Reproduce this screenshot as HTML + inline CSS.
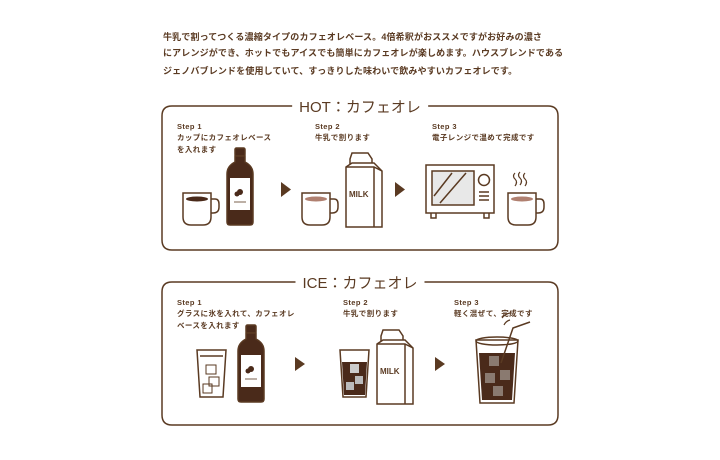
<!DOCTYPE html>
<html><head><meta charset="utf-8"><style>
html,body{margin:0;padding:0;background:#fff;}
body{width:720px;height:460px;overflow:hidden;position:relative;font-family:"Liberation Sans","Noto Sans CJK JP",sans-serif;color:#5a3a22;}
.p{position:absolute;left:163px;font-size:9px;font-weight:bold;letter-spacing:0.15px;white-space:nowrap;line-height:12px;}
.t{position:absolute;font-size:7.5px;font-weight:bold;letter-spacing:0.4px;white-space:nowrap;line-height:12px;}
.h{position:absolute;left:360px;transform:translateX(-50%);white-space:nowrap;font-size:15px;letter-spacing:0px;color:#5a3a22;background:#fff;padding:0 7px;}
svg{position:absolute;left:0;top:0;}
</style></head><body>
<div class="p" style="top:31px">牛乳で割ってつくる濃縮タイプのカフェオレベース。4倍希釈がおススメですがお好みの濃さ</div>
<div class="p" style="top:47px">にアレンジができ、ホットでもアイスでも簡単にカフェオレが楽しめます。ハウスブレンドである</div>
<div class="p" style="top:65px">ジェノバブレンドを使用していて、すっきりした味わいで飲みやすいカフェオレです。</div>

<svg width="720" height="460" viewBox="0 0 720 460" fill="none" stroke="#5a3a22" stroke-width="1.5">
<defs>
<g id="mug"><path d="M0 0 h28 v24 q0 8 -8 8 h-12 q-8 0 -8 -8z" fill="#fff"/><path d="M28 6 h4 q4 0 4 5 v3 q0 6 -6 6 h-2"/></g>
<g id="bottle"><rect x="9" y="0" width="10" height="8" rx="1.5" fill="#4a2a1a"/><path d="M9 8 h10 v6 q8 4 8 12 v48 q0 3 -3 3 h-20 q-3 0 -3 -3 v-48 q0 -8 8 -12z" fill="#4a2a1a"/><rect x="4" y="30" width="20" height="32" fill="#fff" stroke="none"/><circle cx="14" cy="44" r="3" fill="#4a2a1a" stroke="none"/><circle cx="11" cy="46" r="2.5" fill="#4a2a1a" stroke="none"/><line x1="8" y1="54" x2="20" y2="54" stroke-width="0.8"/></g>
<g id="carton"><path d="M6 0 h16 l4 6 v6 h-22 v-6z" fill="#fff"/><path d="M0 14 l6 -4 h22 l8 8 v56 h-36z" fill="#fff"/><path d="M0 14 h28 l8 4 M28 14 v60"/><text x="3" y="44" font-size="8" font-weight="bold" fill="#5a3a22" stroke="none" font-family="Liberation Sans">MILK</text></g>
</defs>
<path d="M300 106 H172 Q162 106 162 116 V240 Q162 250 172 250 H548 Q558 250 558 240 V116 Q558 106 548 106 H420"/>
<path d="M303 282 H172 Q162 282 162 292 V415 Q162 425 172 425 H548 Q558 425 558 415 V292 Q558 282 548 282 H417"/>

<use href="#mug" x="183" y="193"/><ellipse cx="197" cy="199" rx="11" ry="2.5" fill="#4a2a1a" stroke="none"/>
<use href="#bottle" x="226" y="148"/>
<path d="M281 182 L291 189.5 L281 197z" fill="#5a3a22" stroke="none"/>
<use href="#mug" x="302" y="193"/><ellipse cx="316" cy="199" rx="11" ry="2.5" fill="#b08070" stroke="none"/>
<use href="#carton" x="346" y="153"/>
<path d="M395 182 L405 189.5 L395 197z" fill="#5a3a22" stroke="none"/>
<rect x="426" y="165" width="68" height="48" fill="#fff"/><rect x="432" y="171" width="42" height="34" fill="#e8e8e8"/>
<path d="M434 196 L452 173 M440 203 L466 173"/><circle cx="484" cy="180" r="5.5"/><path d="M479 192 h10 M479 196 h10 M479 200 h10"/><path d="M431 213 v5 h5 v-5 M484 213 v5 h5 v-5"/>
<path d="M515 173 q-3 3 0 6 q3 3 0 7 M520 172 q-3 3 0 6 q3 3 0 7 M525 173 q-3 3 0 6 q3 3 0 7" stroke-width="1.2"/>
<use href="#mug" x="508" y="193"/><ellipse cx="522" cy="199" rx="11" ry="2.5" fill="#b08070" stroke="none"/>

<path d="M197 350 h29 l-3 47 h-23z" fill="#fff"/><path d="M200 356 h23"/>
<rect x="206" y="365" width="10" height="9" stroke-width="1"/><rect x="209" y="377" width="10" height="9" stroke-width="1"/><rect x="203" y="384" width="9" height="9" stroke-width="1"/>
<use href="#bottle" x="237" y="325"/>
<path d="M295 357 L305 364 L295 371z" fill="#5a3a22" stroke="none"/>
<path d="M340 350 h29 l-3 47 h-23z" fill="#fff"/><path d="M342 362 h25 l-2 33 h-21z" fill="#4a2a1a" stroke="none"/>
<rect x="350" y="364" width="9" height="9" fill="#ccc" stroke="none"/><rect x="355" y="376" width="8" height="8" fill="#bbb" stroke="none"/><rect x="346" y="382" width="8" height="8" fill="#bbb" stroke="none"/>
<use href="#carton" x="377" y="330"/>
<path d="M435 357 L445 364 L435 371z" fill="#5a3a22" stroke="none"/>
<path d="M476 340 h42 l-4 63 h-34z" fill="#fff"/><ellipse cx="497" cy="341" rx="21" ry="4"/>
<path d="M479 353 h36 l-3 47 h-30z" fill="#4a2a1a" stroke="none"/>
<rect x="489" y="356" width="10" height="10" fill="#8a7a70" stroke="none"/><rect x="500" y="370" width="10" height="10" fill="#8a7a70" stroke="none"/><rect x="485" y="373" width="10" height="10" fill="#8a7a70" stroke="none"/><rect x="493" y="386" width="10" height="10" fill="#8a7a70" stroke="none"/>
<path d="M501 363 L513 328 L530 322" stroke-width="1.5"/>
<path d="M504 325 q2 -4 6 -5 M502 318 q3 -4 8 -5" stroke-width="1.2"/>
</svg>

<div class="h" style="top:96px;">HOT：カフェオレ</div>
<div class="h" style="top:272px;">ICE：カフェオレ</div>

<div class="t" style="left:177px;top:121px">Step 1</div>
<div class="t" style="left:177px;top:132px">カップにカフェオレベース</div>
<div class="t" style="left:177px;top:144px">を入れます</div>
<div class="t" style="left:315px;top:121px">Step 2</div>
<div class="t" style="left:315px;top:132px">牛乳で割ります</div>
<div class="t" style="left:432px;top:121px">Step 3</div>
<div class="t" style="left:432px;top:132px">電子レンジで温めて完成です</div>

<div class="t" style="left:177px;top:297px">Step 1</div>
<div class="t" style="left:177px;top:308px">グラスに氷を入れて、カフェオレ</div>
<div class="t" style="left:177px;top:320px">ベースを入れます</div>
<div class="t" style="left:343px;top:297px">Step 2</div>
<div class="t" style="left:343px;top:308px">牛乳で割ります</div>
<div class="t" style="left:454px;top:297px">Step 3</div>
<div class="t" style="left:454px;top:308px">軽く混ぜて、完成です</div>
</body></html>
